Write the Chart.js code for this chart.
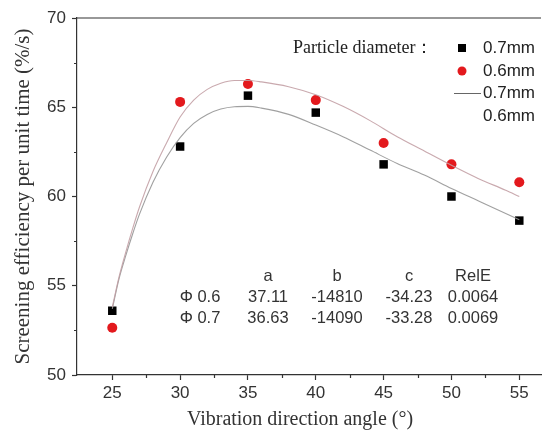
<!DOCTYPE html>
<html>
<head>
<meta charset="utf-8">
<script src="https://cdn.jsdelivr.net/npm/chart.js@4.4.0/dist/chart.umd.min.js"></script>
<style>
  html, body { margin: 0; padding: 0; background: #fff; }
</style>
</head>
<body>
<canvas id="myChart" width="547" height="434"></canvas>
<script>
// measured screening efficiency per vibration direction angle
const ANGLES = [25, 30, 35, 40, 45, 50, 55];
const EFF_07 = [53.6, 62.8, 65.65, 64.7, 61.8, 60.0, 58.65];
const EFF_06 = [52.65, 65.3, 66.3, 65.4, 63.0, 61.8, 60.8];

// fitted curves
const FIT_X = [25, 25.5, 26, 26.5, 27, 28, 29, 30, 31, 32, 33, 34, 35, 36, 38, 40, 42, 44, 46, 48, 50, 52, 54, 55];
const FIT_06 = [53.8, 55.5, 56.9, 58.2, 59.4, 61.4, 63.0, 64.45, 65.4, 66.0, 66.35, 66.5, 66.5, 66.42, 66.15, 65.7, 65.05, 64.25, 63.35, 62.55, 61.75, 61.0, 60.35, 60.0];
const FIT_07 = [53.7, 55.4, 56.7, 57.9, 59.0, 60.8, 62.2, 63.3, 64.1, 64.6, 64.9, 65.03, 65.05, 64.95, 64.6, 64.0, 63.35, 62.6, 61.85, 61.2, 60.45, 59.75, 59.05, 58.7];

const X_TICKS = [25, 30, 35, 40, 45, 50, 55];
const Y_TICKS = [50, 55, 60, 65, 70];
const X_MINOR = [27.5, 32.5, 37.5, 42.5, 47.5, 52.5];
const Y_MINOR = [52.5, 57.5, 62.5, 67.5];

const X_TITLE = "Vibration direction angle (°)";
const Y_TITLE = "Screening efficiency per unit time (%/s)";
const LEGEND_TITLE = "Particle diameter：";
const LEGEND_LABELS = ["0.7mm", "0.6mm", "0.7mm", "0.6mm"];

// fit parameter table
const FIT_HEAD = ["a", "b", "c", "RelE"];
const FIT_NAMES = ["Φ 0.6", "Φ 0.7"];
const FIT_A = ["37.11", "36.63"];
const FIT_B = ["-14810", "-14090"];
const FIT_C = ["-34.23", "-33.28"];
const FIT_RELE = ["0.0064", "0.0069"];

const AXIS_COLOR = "#333";
const SANS = "'Liberation Sans', Arial, sans-serif";
const SERIF = "'Liberation Serif', 'Times New Roman', serif";

function toPoints(xs, ys) {
  return xs.map((v, i) => ({ x: v, y: ys[i] }));
}

// frame top line, minor ticks, x title, legend and parameter table
const decorations = {
  id: "decorations",
  afterDraw(chart) {
    const { ctx, chartArea: area, scales: { x, y } } = chart;
    ctx.save();
    ctx.strokeStyle = AXIS_COLOR;
    ctx.lineWidth = 1.2;
    ctx.beginPath();
    ctx.moveTo(area.left, area.top);
    ctx.lineTo(area.right, area.top);
    X_MINOR.forEach(v => {
      const px = Math.round(x.getPixelForValue(v)) + 0.5;
      ctx.moveTo(px, area.bottom);
      ctx.lineTo(px, area.bottom + 3);
    });
    Y_MINOR.forEach(v => {
      const py = Math.round(y.getPixelForValue(v)) + 0.5;
      ctx.moveTo(area.left, py);
      ctx.lineTo(area.left - 3, py);
    });
    ctx.stroke();

    // x axis title, sitting a bit left of the axis centre
    ctx.fillStyle = "#333";
    ctx.font = "20px " + SERIF;
    ctx.textAlign = "center";
    ctx.textBaseline = "middle";
    ctx.fillText(X_TITLE, 300, 420);

    // legend
    ctx.fillStyle = "#222";
    ctx.font = "18px " + SERIF;
    ctx.textAlign = "left";
    ctx.fillText(LEGEND_TITLE, 293, 48);
    ctx.font = "17px " + SANS;
    const rows = [48, 71, 93, 116];
    LEGEND_LABELS.forEach((t, i) => ctx.fillText(t, 483, rows[i]));
    ctx.fillStyle = "#000";
    ctx.fillRect(458, 44, 8, 8);
    ctx.fillStyle = "#e3191d";
    ctx.beginPath();
    ctx.arc(462, 71, 4.5, 0, Math.PI * 2);
    ctx.fill();
    ctx.strokeStyle = "#666";
    ctx.lineWidth = 1;
    ctx.beginPath();
    ctx.moveTo(454, 93.5);
    ctx.lineTo(481, 93.5);
    ctx.stroke();

    // table
    ctx.fillStyle = "#333";
    ctx.font = "16.5px " + SANS;
    ctx.textAlign = "center";
    const cols = [268, 337, 409, 473];
    FIT_HEAD.forEach((t, i) => ctx.fillText(t, cols[i], 276));
    [FIT_A, FIT_B, FIT_C, FIT_RELE].forEach((col, i) => {
      col.forEach((t, r) => ctx.fillText(t, cols[i], 297 + r * 21));
    });
    FIT_NAMES.forEach((t, r) => ctx.fillText(t, 200, 297 + r * 21));
    ctx.restore();
  }
};

function generateGraph() {
  const ctx = document.getElementById("myChart").getContext("2d");
  return new Chart(ctx, {
    type: "scatter",
    data: {
      datasets: [
        {
          label: "fit 0.6mm",
          type: "line",
          data: toPoints(FIT_X, FIT_06),
          borderColor: "rgba(195,160,165,0.9)",
          borderWidth: 1.1,
          pointRadius: 0,
          cubicInterpolationMode: "monotone",
        },
        {
          label: "fit 0.7mm",
          type: "line",
          data: toPoints(FIT_X, FIT_07),
          borderColor: "rgba(150,150,150,0.9)",
          borderWidth: 1.1,
          pointRadius: 0,
          cubicInterpolationMode: "monotone",
        },
        {
          label: "0.7mm",
          data: toPoints(ANGLES, EFF_07),
          pointStyle: "rect",
          pointRadius: 6,
          backgroundColor: "#000",
          borderColor: "#000",
          borderWidth: 0,
        },
        {
          label: "0.6mm",
          data: toPoints(ANGLES, EFF_06),
          pointStyle: "circle",
          pointRadius: 5,
          backgroundColor: "#e3191d",
          borderColor: "#e3191d",
          borderWidth: 0,
        },
      ],
    },
    options: {
      responsive: false,
      animation: false,
      layout: { padding: { left: 4, top: 18, right: 0, bottom: 0 } },
      plugins: { legend: { display: false }, tooltip: { enabled: false } },
      scales: {
        x: {
          type: "linear",
          min: 22.4,
          max: 56.6,
          afterBuildTicks: s => { s.ticks = X_TICKS.map(v => ({ value: v })); },
          afterFit: s => { s.height = 59; },
          ticks: { color: "#333", font: { family: SANS, size: 17 }, padding: 3 },
          grid: { drawOnChartArea: false, tickLength: 5, color: AXIS_COLOR, tickWidth: 1.2 },
          border: { color: AXIS_COLOR, width: 1.2 },
        },
        y: {
          min: 50,
          max: 70,
          afterBuildTicks: s => { s.ticks = Y_TICKS.map(v => ({ value: v })); },
          afterFit: s => { s.width = 73; },
          ticks: { color: "#333", font: { family: SANS, size: 17 }, padding: 6 },
          grid: { drawOnChartArea: false, tickLength: 5, color: AXIS_COLOR, tickWidth: 1.2 },
          border: { color: AXIS_COLOR, width: 1.2 },
          title: {
            display: true,
            text: Y_TITLE,
            color: "#333",
            font: { family: SERIF, size: 21 },
            padding: { top: 7, bottom: 0 },
          },
        },
      },
    },
    plugins: [decorations],
  });
}

generateGraph();
</script>
</body>
</html>
